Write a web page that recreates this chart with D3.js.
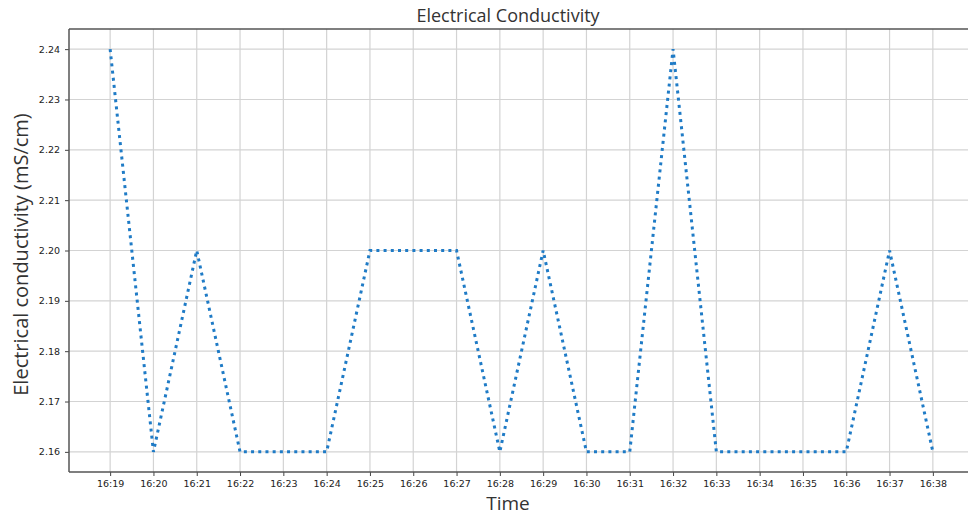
<!DOCTYPE html>
<html>
<head>
<meta charset="utf-8">
<script src="https://cdn.jsdelivr.net/npm/d3@7"></script>
<style>
  body { margin: 0; background: #fff; }
  .tick text { font-family: "DejaVu Sans", sans-serif; font-size: 9.5px; fill: #222; }
  .grid line { stroke: #d3d3d3; stroke-width: 1.2; }
</style>
</head>
<body>
<div class="layout"></div>
<script>
var times = ["16:19","16:20","16:21","16:22","16:23","16:24","16:25","16:26","16:27","16:28",
             "16:29","16:30","16:31","16:32","16:33","16:34","16:35","16:36","16:37","16:38"];
var conductivity = [2.24, 2.16, 2.20, 2.16, 2.16, 2.16, 2.20, 2.20, 2.20, 2.16,
                    2.20, 2.16, 2.16, 2.24, 2.16, 2.16, 2.16, 2.16, 2.20, 2.16];
var yTicks = [2.16, 2.17, 2.18, 2.19, 2.20, 2.21, 2.22, 2.23, 2.24];

var margin = {top: 29, right: 0, bottom: 43, left: 69},
    width = 974 - margin.left,
    height = 515 - margin.top - margin.bottom;

var x = d3.scaleLinear()
        .domain([-0.95, times.length - 1 + 0.95])
        .range([0, width]);

var y = d3.scaleLinear()
        .domain([2.156, 2.244])
        .range([height, 0]);

var svg = d3.select(".layout").append("svg")
        .attr("width", 968)
        .attr("height", 515);

var g = svg.append("g")
        .attr("transform", "translate(" + margin.left + "," + margin.top + ")");

// grid
g.append("g")
        .attr("class", "grid")
        .selectAll("line.v")
        .data(times)
        .enter().append("line")
        .attr("x1", function(d, i) { return x(i); })
        .attr("x2", function(d, i) { return x(i); })
        .attr("y1", 0)
        .attr("y2", height);

g.append("g")
        .attr("class", "grid")
        .selectAll("line.h")
        .data(yTicks)
        .enter().append("line")
        .attr("x1", 0)
        .attr("x2", width)
        .attr("y1", function(d) { return y(d); })
        .attr("y2", function(d) { return y(d); });

var xAxis = d3.axisBottom(x)
        .tickValues(d3.range(times.length))
        .tickFormat(function(i) { return times[i]; })
        .tickSize(4)
        .tickPadding(4)
        .tickSizeOuter(0);

var yAxis = d3.axisLeft(y)
        .tickValues(yTicks)
        .tickFormat(d3.format(".2f"))
        .tickSize(4)
        .tickPadding(5)
        .tickSizeOuter(0);

g.append("g")
        .attr("class", "x axis")
        .attr("transform", "translate(0," + height + ")")
        .call(xAxis);

g.append("g")
        .attr("class", "y axis")
        .call(yAxis);

g.selectAll(".axis .domain").remove();
g.selectAll(".axis .tick line").attr("stroke", "#444").attr("stroke-width", 1);

// frame
g.append("line").attr("x1", 0).attr("x2", width).attr("y1", 0).attr("y2", 0)
        .attr("stroke", "#555").attr("stroke-width", 1.5);
g.append("line").attr("x1", 0).attr("x2", width).attr("y1", height).attr("y2", height)
        .attr("stroke", "#555").attr("stroke-width", 1.5);
g.append("line").attr("x1", 0).attr("x2", 0).attr("y1", 0).attr("y2", height)
        .attr("stroke", "#555").attr("stroke-width", 1.5);

var line = d3.line()
        .x(function(d, i) { return x(i); })
        .y(function(d) { return y(d); });

g.append("path")
        .datum(conductivity)
        .attr("fill", "none")
        .attr("stroke", "#1f7bc6")
        .attr("stroke-width", 3)
        .attr("stroke-dasharray", "3,4.2")
        .attr("d", line);

svg.append("text")
        .attr("x", 508)
        .attr("y", 22)
        .attr("text-anchor", "middle")
        .style("font-family", "'Open Sans', sans-serif")
        .style("font-size", "18px")
        .style("fill", "#333")
        .text("Electrical Conductivity");

svg.append("text")
        .attr("x", 508)
        .attr("y", 510)
        .attr("text-anchor", "middle")
        .style("font-family", "'Open Sans', sans-serif")
        .style("font-size", "19px")
        .style("fill", "#333")
        .text("Time");

svg.append("text")
        .attr("transform", "translate(28," + (margin.top + height / 2 + 4) + ") rotate(-90)")
        .attr("text-anchor", "middle")
        .style("font-family", "'Open Sans', sans-serif")
        .style("font-size", "20px")
        .style("fill", "#333")
        .text("Electrical conductivity (mS/cm)");
</script>
</body>
</html>
